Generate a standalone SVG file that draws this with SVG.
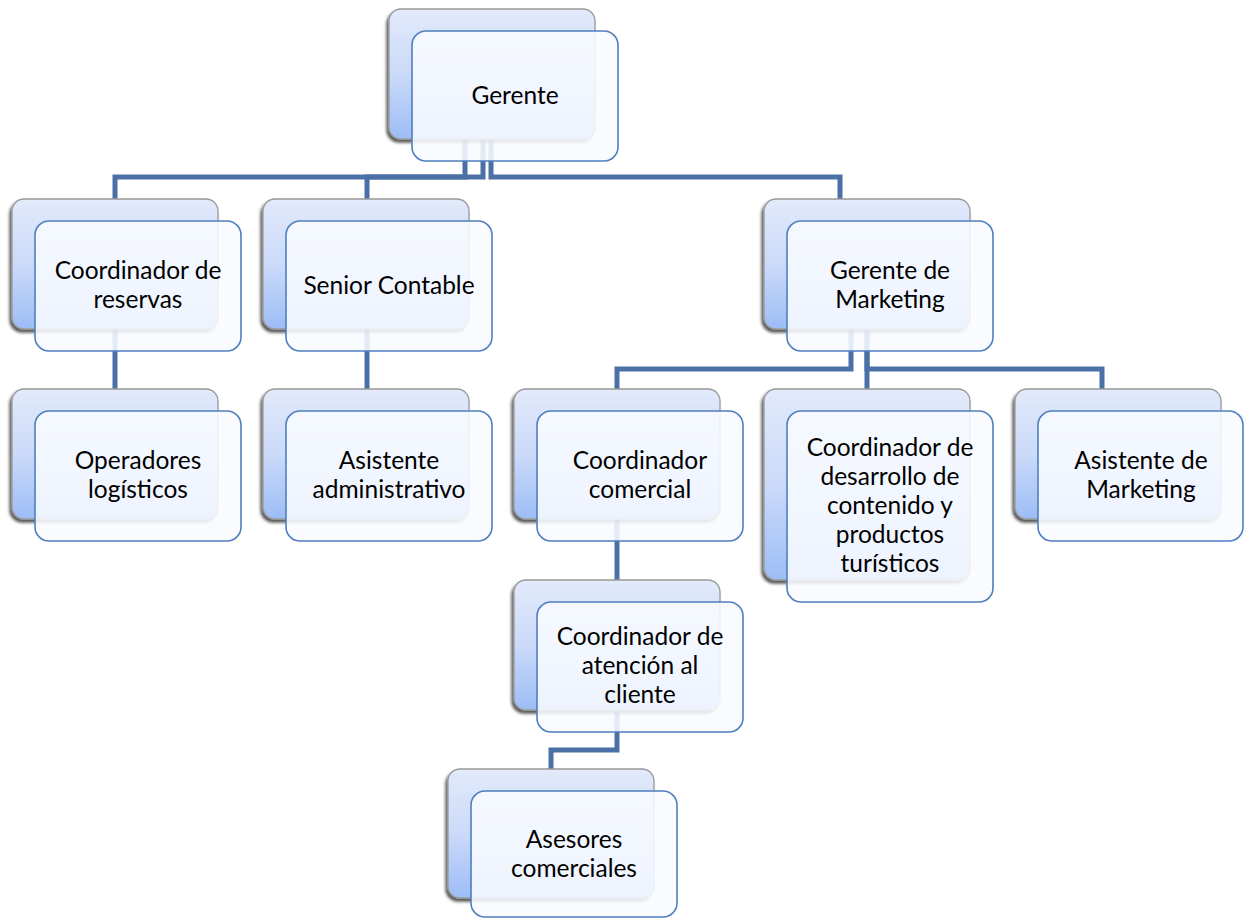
<svg xmlns="http://www.w3.org/2000/svg" width="1245" height="918" viewBox="0 0 1245 918">
  <defs>
    <linearGradient id="backFill" x1="0" y1="0" x2="0" y2="1">
      <stop offset="0" stop-color="#e2eafb"/>
      <stop offset="0.5" stop-color="#cbdaf9"/>
      <stop offset="1" stop-color="#9dbdf6"/>
    </linearGradient>
    <filter id="shadow" x="-10%" y="-10%" width="120%" height="125%">
      <feDropShadow dx="-2" dy="3" stdDeviation="1.6" flood-color="#000" flood-opacity="0.65"/>
    </filter>
  </defs>
  <style>
    .back { fill: url(#backFill); stroke: #999999; stroke-width: 1.3; filter: url(#shadow); }
    .front { fill: #f8faff; fill-opacity: 0.88; stroke: #4f7fbe; stroke-width: 1.6; }
    .link { fill: none; stroke: #4a70a6; stroke-width: 5; stroke-linejoin: miter; }
    text { font-family: Lato, "Open Sans", "Liberation Sans", sans-serif; font-size: 24.5px; fill: #000; text-anchor: middle; }
  </style>
  <rect width="1245" height="918" fill="#fff"/>

  <!-- reporting lines -->
  <g id="connectors">
    <path class="link" d="M465,139 V177 H115 V199"/>
    <path class="link" d="M483,139 V177 H367 V199"/>
    <path class="link" d="M491,139 V177 H840 V199"/>
    <path class="link" d="M115,329 V389"/>
    <path class="link" d="M367,329 V389"/>
    <path class="link" d="M851,329 V369 H617 V389"/>
    <path class="link" d="M867,329 V389"/>
    <path class="link" d="M867,329 V369 H1102 V389"/>
    <path class="link" d="M617,519 V580"/>
    <path class="link" d="M617,710 V750 H551 V769"/>
  </g>

  <g id="gerente">
    <rect class="back" x="389" y="9" width="206" height="130" rx="12"/>
    <rect class="front" x="412" y="31" width="206" height="130" rx="14"/>
    <text x="515" y="104">Gerente</text>
  </g>

  <g id="coordinador-reservas">
    <rect class="back" x="12" y="199" width="206" height="130" rx="12"/>
    <rect class="front" x="35" y="221" width="206" height="130" rx="14"/>
    <text x="138" y="279">Coordinador de</text>
    <text x="138" y="308">reservas</text>
  </g>

  <g id="senior-contable">
    <rect class="back" x="263" y="199" width="206" height="130" rx="12"/>
    <rect class="front" x="286" y="221" width="206" height="130" rx="14"/>
    <text x="389" y="294">Senior Contable</text>
  </g>

  <g id="gerente-marketing">
    <rect class="back" x="764" y="199" width="206" height="130" rx="12"/>
    <rect class="front" x="787" y="221" width="206" height="130" rx="14"/>
    <text x="890" y="279">Gerente de</text>
    <text x="890" y="308">Marketing</text>
  </g>

  <g id="operadores-logisticos">
    <rect class="back" x="12" y="389" width="206" height="130" rx="12"/>
    <rect class="front" x="35" y="411" width="206" height="130" rx="14"/>
    <text x="138" y="469">Operadores</text>
    <text x="138" y="498">logísticos</text>
  </g>

  <g id="asistente-administrativo">
    <rect class="back" x="263" y="389" width="206" height="130" rx="12"/>
    <rect class="front" x="286" y="411" width="206" height="130" rx="14"/>
    <text x="389" y="469">Asistente</text>
    <text x="389" y="498">administrativo</text>
  </g>

  <g id="coordinador-comercial">
    <rect class="back" x="514" y="389" width="206" height="130" rx="12"/>
    <rect class="front" x="537" y="411" width="206" height="130" rx="14"/>
    <text x="640" y="469">Coordinador</text>
    <text x="640" y="498">comercial</text>
  </g>

  <g id="coordinador-desarrollo">
    <rect class="back" x="764" y="389" width="206" height="191" rx="12"/>
    <rect class="front" x="787" y="411" width="206" height="191" rx="14"/>
    <text x="890" y="456">Coordinador de</text>
    <text x="890" y="485">desarrollo de</text>
    <text x="890" y="514">contenido y</text>
    <text x="890" y="543">productos</text>
    <text x="890" y="572">turísticos</text>
  </g>

  <g id="asistente-marketing">
    <rect class="back" x="1015" y="389" width="206" height="130" rx="12"/>
    <rect class="front" x="1038" y="411" width="205" height="130" rx="14"/>
    <text x="1141" y="469">Asistente de</text>
    <text x="1141" y="498">Marketing</text>
  </g>

  <g id="coordinador-atencion">
    <rect class="back" x="514" y="580" width="206" height="130" rx="12"/>
    <rect class="front" x="537" y="602" width="206" height="130" rx="14"/>
    <text x="640" y="645">Coordinador de</text>
    <text x="640" y="674">atención al</text>
    <text x="640" y="703">cliente</text>
  </g>

  <g id="asesores-comerciales">
    <rect class="back" x="448" y="769" width="206" height="129" rx="12"/>
    <rect class="front" x="471" y="791" width="206" height="126" rx="14"/>
    <text x="574" y="848">Asesores</text>
    <text x="574" y="877">comerciales</text>
  </g>
</svg>
